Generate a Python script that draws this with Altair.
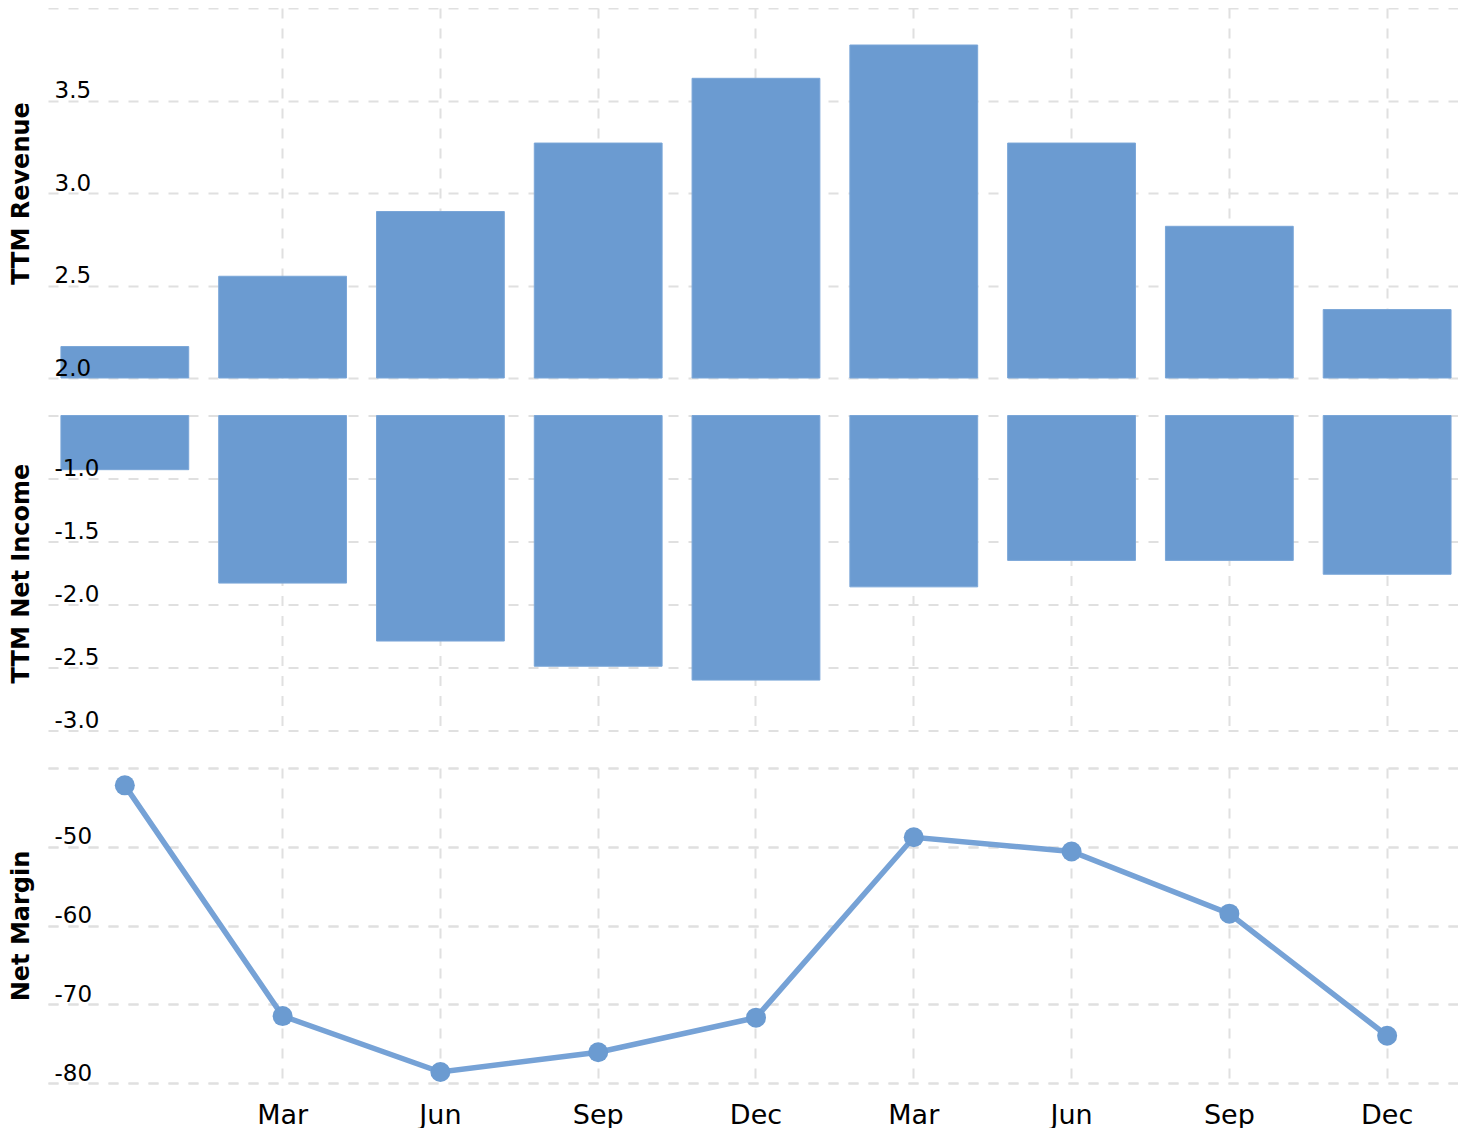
import altair as alt
import pandas as pd

# ---- data ----
QUARTERS = ["Dec 2021", "Mar 2022", "Jun 2022", "Sep 2022", "Dec 2022",
            "Mar 2023", "Jun 2023", "Sep 2023", "Dec 2023"]
REVENUE = [2.17, 2.55, 2.90, 3.27, 3.62, 3.80, 3.27, 2.82, 2.37]
NET_INCOME = [-0.93, -1.83, -2.29, -2.49, -2.60, -1.86, -1.65, -1.65, -1.76]
NET_MARGIN = [-42.2, -71.5, -78.6, -76.1, -71.7, -48.8, -50.6, -58.5, -74.0]

REV_TICKS = [2.0, 2.5, 3.0, 3.5, 4.0]
NI_TICKS = [-3.0, -2.5, -2.0, -1.5, -1.0, -0.5]
NM_TICKS = [-80, -70, -60, -50, -40]

df = pd.DataFrame({"q": QUARTERS, "rev": REVENUE, "ni": NET_INCOME, "nm": NET_MARGIN})

BAR = "#6b9bd1"
EDGE = "#7aa6d8"
LINE = "#76a2d6"
W = 1410
H1, H2, H3 = 370, 315, 315

xscale = alt.Scale(type="band", domain=QUARTERS, paddingInner=0.19, paddingOuter=0.063, align=0.65)


def x_axis(labels):
    kw = dict(title=None, values=QUARTERS[1:], grid=True, domain=False, ticks=False,
              tickSize=0, bandPosition=0.5)
    if labels:
        kw.update(labels=True, labelAngle=0, labelFontSize=27, labelBaseline="alphabetic",
                  labelPadding=40, labelExpr="split(datum.label, ' ')[0]",
                  labelFont="DejaVu Sans", labelColor="#000000", labelOverlap=False)
    else:
        kw.update(labels=False)
    return alt.Axis(**kw)


def xenc(labels):
    return alt.X("q:N", scale=xscale, sort=QUARTERS, axis=x_axis(labels))


def grid_axis(ticks):
    return alt.Axis(title=None, orient="left", values=ticks, grid=True, labels=False,
                    domain=False, ticks=False, tickSize=0, zindex=0)


def label_axis(title, ticks, fmt, height):
    expr = (f"datum.value < 0 ? '-' + format(-datum.value, '{fmt}')"
            f" : format(datum.value, '{fmt}')")
    return alt.Axis(
        title=title, orient="left", values=ticks[:-1], grid=False, domain=False,
        ticks=False, tickSize=0, zindex=1,
        labelExpr=expr, labelFontSize=23,
        labelAlign="left", labelBaseline="alphabetic", labelPadding=-6, labelOffset=-3,
        labelFont="DejaVu Sans", labelColor="#000000", labelOverlap=False,
        titleFont="DejaVu Sans", titleFontWeight="bold", titleFontSize=24, titleColor="#000000",
        titleAngle=270, titleAlign="center", titleBaseline="alphabetic",
        titleX=-20, titleY=height / 2,
    )


def yscale(ticks):
    return alt.Scale(domain=[ticks[0], ticks[-1]], zero=False, nice=False)


def labels_layer(field, ticks, title, fmt, height, xlabels):
    return alt.Chart(df).mark_point(opacity=0).encode(
        x=xenc(xlabels),
        y=alt.Y(f"{field}:Q", scale=yscale(ticks), axis=label_axis(title, ticks, fmt, height)),
    )


rev_bars = alt.Chart(df).mark_bar(color=BAR, stroke=EDGE, strokeWidth=1).encode(
    x=xenc(False),
    y=alt.Y("rev:Q", scale=yscale(REV_TICKS), axis=grid_axis(REV_TICKS)),
    y2=alt.datum(REV_TICKS[0]),
)
rev = alt.layer(rev_bars, labels_layer("rev", REV_TICKS, "TTM Revenue", ".1f", H1, False)).resolve_axis(
    y="independent").properties(width=W, height=H1)

ni_bars = alt.Chart(df).mark_bar(color=BAR, stroke=EDGE, strokeWidth=1).encode(
    x=xenc(False),
    y=alt.Y("ni:Q", scale=yscale(NI_TICKS), axis=grid_axis(NI_TICKS)),
    y2=alt.datum(NI_TICKS[-1]),
)
ni = alt.layer(ni_bars, labels_layer("ni", NI_TICKS, "TTM Net Income", ".1f", H2, False)).resolve_axis(
    y="independent").properties(width=W, height=H2)

nm_line = alt.Chart(df).mark_line(color=LINE, strokeWidth=5.5).encode(
    x=xenc(True),
    y=alt.Y("nm:Q", scale=yscale(NM_TICKS), axis=grid_axis(NM_TICKS)),
)
nm_pts = alt.Chart(df).mark_point(filled=True, color=BAR, opacity=1, size=400).encode(
    x=xenc(True),
    y=alt.Y("nm:Q", scale=yscale(NM_TICKS), axis=grid_axis(NM_TICKS)),
)
nm = alt.layer(nm_line, nm_pts, labels_layer("nm", NM_TICKS, "Net Margin", "d", H3, True)).resolve_axis(
    y="independent").properties(width=W, height=H3)

chart = alt.vconcat(rev, ni, nm, spacing=37.5, bounds="flush").properties(
    padding=0
).configure_view(stroke=None).configure_axis(
    gridColor="#e0e0e0", gridDash=[10, 10], gridWidth=2,
)

chart.save("out.html", embed_options={"renderer": "svg", "actions": False})
